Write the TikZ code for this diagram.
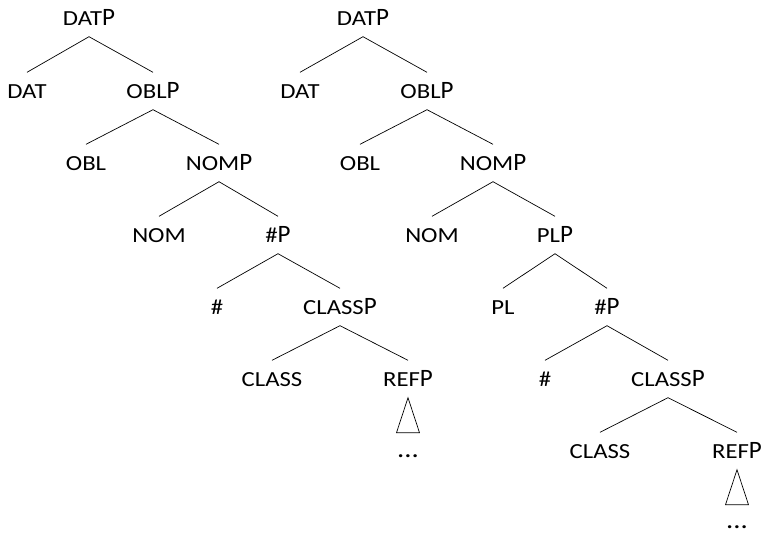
\documentclass[tikz,border=0pt]{standalone}
\usepackage{fontspec}
\setmainfont{Carlito}
\newfontfamily\scfont[FakeStretch=1.15]{Carlito}
\newcommand{\sml}[1]{{\scfont\fontsize{21.5}{21.5}\selectfont #1}}
\newcommand{\phr}[1]{\sml{#1}{\fontsize{25}{25}\selectfont P}}

\begin{document}
\begin{tikzpicture}[x=1pt,y=-1pt,
    lbl/.style={inner xsep=0pt,inner ysep=11pt,text height=15pt,text depth=0pt},
    dots/.style={anchor=base,inner sep=0pt,font=\scfont\fontsize{25}{25}\selectfont},
    br/.style={line width=0.7pt}]
  \useasboundingbox (0,0) rectangle (764,533);
  % left tree
  \node[lbl] (datpa) at (89,18) {\phr{DAT}};
  \node[lbl] (data) at (27,91) {\sml{DAT}};
  \node[lbl] (oblpa) at (153,91) {\phr{OBL}};
  \node[lbl] (obla) at (86,163) {\sml{OBL}};
  \node[lbl] (nompa) at (219,163) {\phr{NOM}};
  \node[lbl] (noma) at (159,235) {\sml{NOM}};
  \node[lbl] (numpa) at (278,235) {\phr{\#}};
  \node[lbl] (numa) at (217,307) {\sml{\#}};
  \node[lbl] (classpa) at (340,307) {\phr{CLASS}};
  \node[lbl] (classa) at (272,379) {\sml{CLASS}};
  \node[lbl] (refpa) at (408,379) {\phr{REF}};
  \node[dots] (dotsa) at (408,457) {...};
  \draw[br] (datpa.south) -- (data.north);
  \draw[br] (datpa.south) -- (oblpa.north);
  \draw[br] (oblpa.south) -- (obla.north);
  \draw[br] (oblpa.south) -- (nompa.north);
  \draw[br] (nompa.south) -- (noma.north);
  \draw[br] (nompa.south) -- (numpa.north);
  \draw[br] (numpa.south) -- (numa.north);
  \draw[br] (numpa.south) -- (classpa.north);
  \draw[br] (classpa.south) -- (classa.north);
  \draw[br] (classpa.south) -- (refpa.north);
  \draw[br] (refpa.south) -- ++(-11.5,35) -- ++(23,0) -- cycle;
  % right tree
  \node[lbl] (datpb) at (363,18) {\phr{DAT}};
  \node[lbl] (datb) at (300,91) {\sml{DAT}};
  \node[lbl] (oblpb) at (427,91) {\phr{OBL}};
  \node[lbl] (oblb) at (360,163) {\sml{OBL}};
  \node[lbl] (nompb) at (493,163) {\phr{NOM}};
  \node[lbl] (nomb) at (432,235) {\sml{NOM}};
  \node[lbl] (plpb) at (555,235) {\phr{PL}};
  \node[lbl] (plb) at (503,307) {\sml{PL}};
  \node[lbl] (numpb) at (607,307) {\phr{\#}};
  \node[lbl] (numb) at (545,379) {\sml{\#}};
  \node[lbl] (classpb) at (668,379) {\phr{CLASS}};
  \node[lbl] (classb) at (600,451) {\sml{CLASS}};
  \node[lbl] (refpb) at (737,451) {\phr{REF}};
  \node[dots] (dotsb) at (737,528) {...};
  \draw[br] (datpb.south) -- (datb.north);
  \draw[br] (datpb.south) -- (oblpb.north);
  \draw[br] (oblpb.south) -- (oblb.north);
  \draw[br] (oblpb.south) -- (nompb.north);
  \draw[br] (nompb.south) -- (nomb.north);
  \draw[br] (nompb.south) -- (plpb.north);
  \draw[br] (plpb.south) -- (plb.north);
  \draw[br] (plpb.south) -- (numpb.north);
  \draw[br] (numpb.south) -- (numb.north);
  \draw[br] (numpb.south) -- (classpb.north);
  \draw[br] (classpb.south) -- (classb.north);
  \draw[br] (classpb.south) -- (refpb.north);
  \draw[br] (refpb.south) -- ++(-11.5,35) -- ++(23,0) -- cycle;
\end{tikzpicture}
\end{document}
